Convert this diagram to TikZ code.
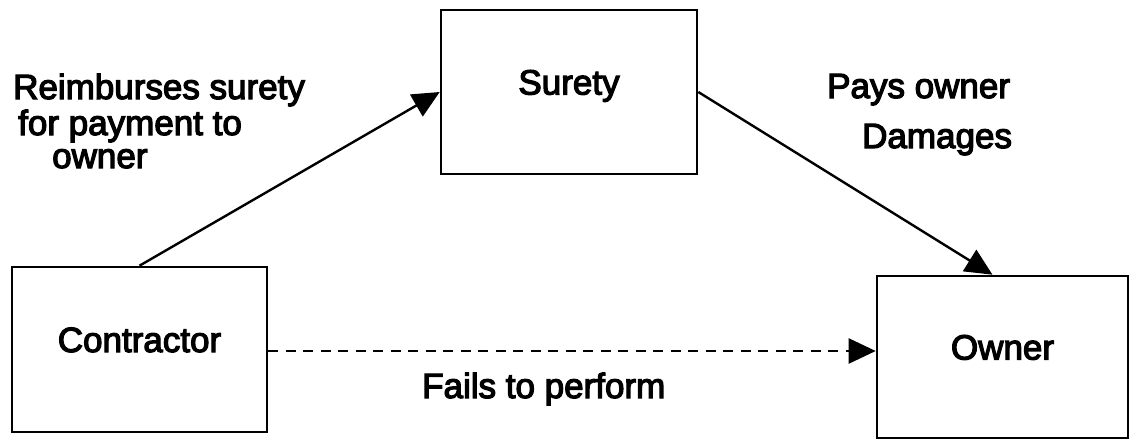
\documentclass[tikz,border=0pt]{standalone}
\usepackage{fontspec}
\setmainfont{Liberation Sans}[BoldFont=Liberation Sans,BoldFeatures={FakeBold=3.5}]
\usepackage{tikz}
\usetikzlibrary{arrows.meta}

\begin{document}
\begin{tikzpicture}[x=1pt,y=-1pt,
    font=\fontsize{35}{42}\selectfont\bfseries,
    party/.style={draw,line width=2.6pt,inner sep=0pt,
      text height=25pt,text depth=20pt},
    flow/.style={line width=2.4pt,-{Triangle[length=27pt,width=25pt]}},
    lbl/.style={inner sep=0pt,anchor=base west}]
    \useasboundingbox (0,0) rectangle (1129,439);
    \node[party,minimum width=256pt,minimum height=164pt] (surety) at (569,92) {Surety};
    \node[party,minimum width=255pt,minimum height=165pt] (contractor) at (139.5,349.5) {Contractor};
    \node[party,minimum width=251pt,minimum height=162pt] (owner) at (1002.5,357) {Owner};
    \draw[flow] (contractor.north) -- (surety.west);
    \draw[flow] (surety.east) -- ([xshift=-10pt]owner.north);
    \draw[flow,dash pattern=on 10pt off 7.5pt] ([yshift=-1.5pt]contractor.east)
      -- ([yshift=-1.5pt]contractor.east -| owner.west);
    \node[lbl] (reimb) at (13,99) {Reimburses surety};
    \node[lbl] (reimbb) at (18,135) {for payment to};
    \node[lbl] (reimbc) at (52,168) {owner};
    \node[lbl] (pays) at (827,98) {Pays owner};
    \node[lbl] (paysb) at (862,148) {Damages};
    \node[lbl] (fails) at (422,398) {Fails to perform};
  \end{tikzpicture}
\end{document}
